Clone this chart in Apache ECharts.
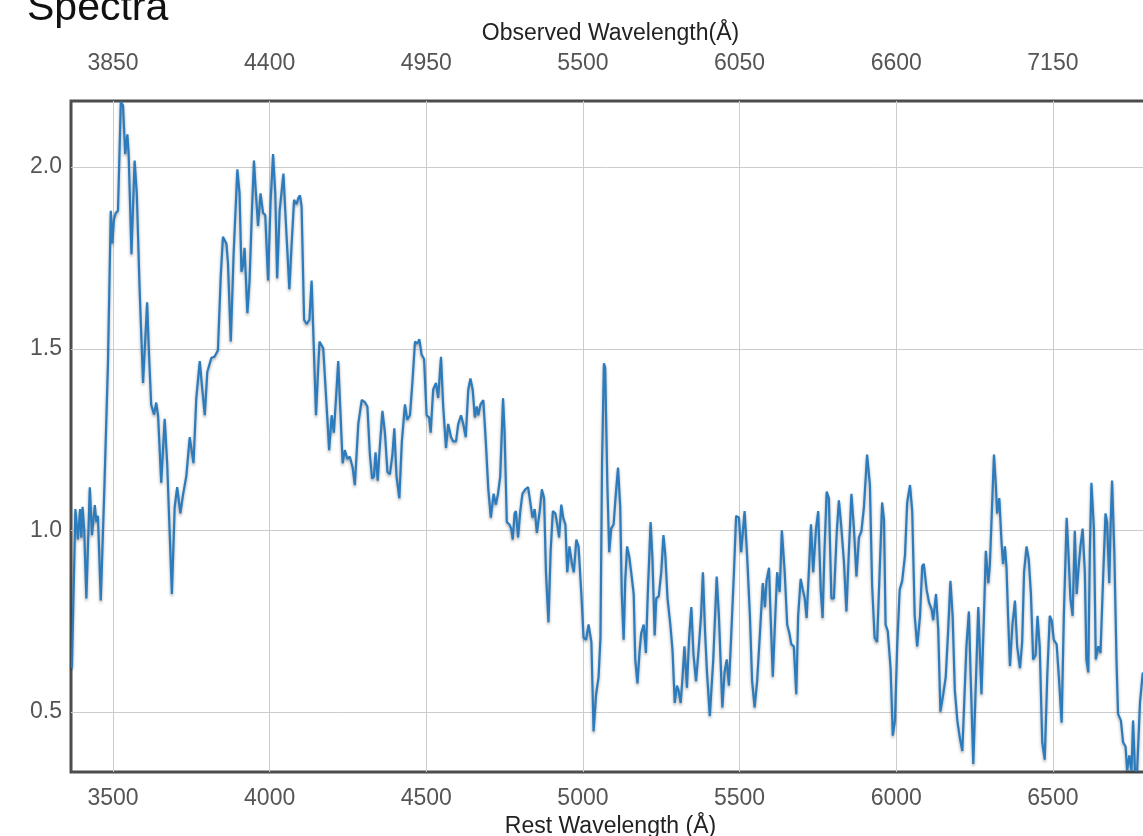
<!DOCTYPE html>
<html>
<head>
<meta charset="utf-8">
<title>Spectra</title>
<script src="https://cdn.jsdelivr.net/npm/echarts@6/dist/echarts.min.js"></script>
<style>
  html, body { margin: 0; padding: 0; background: #fff; }
  #chart { width: 1143px; height: 836px; }
</style>
</head>
<body>
<div id="chart"></div>
<script>
// redshift used for the top (observed) axis
const redshift = 0.1;

// rest wavelength (Å)
const restWave = [3369,3380,3388,3395,3399,3403,3408,3415,3426,3433,3442,3447,3452,3461,3473,3484,3493,3498,3503,3509,3516,3525,3532,3539,3546,3550,3559,3569,3576,3585,3596,3609,3615,3622,3631,3638,3644,3654,3665,3673,3688,3697,3705,3715,3723,3734,3745,3757,3766,3777,3785,3793,3801,3814,3824,3835,3844,3851,3862,3867,3876,3885,3897,3904,3910,3915,3920,3929,3936,3944,3950,3954,3963,3971,3979,3986,3995,4003,4011,4018,4024,4032,
  4044,4052,4063,4070,4078,4086,4092,4097,4102,4110,4118,4127,4134,4139,4148,4159,4171,4182,4190,4198,4205,4212,4219,4227,4233,4240,4248,4256,4265,4272,4283,4294,4304,4312,4320,4327,4333,4338,4345,4350,4360,4368,4376,4384,4392,4398,4405,4414,4422,4432,4439,4448,4456,4464,4471,4478,4485,4493,4501,4509,4514,4522,4531,4538,4547,4554,4563,4570,4579,4586,4595,4602,4611,4618,4626,4634,4641,4648,4655,4661,4666,4673,4682,4690,4698,4706,
  4715,4722,4729,4736,4745,4750,4757,4765,4771,4776,4782,4786,4793,4800,4807,4816,4825,4832,4839,4846,4853,4862,4869,4876,4882,4890,4897,4904,4912,4918,4924,4931,4937,4944,4950,4957,4965,4971,4979,4986,4995,5002,5010,5018,5027,5034,5042,5050,5056,5061,5067,5071,5078,5084,5090,5098,5105,5112,5119,5124,5130,5135,5141,5148,5154,5162,5167,5174,5181,5186,5194,5201,5207,5216,5222,5229,5234,5242,5250,5257,5263,5270,5279,5286,5293,5300,5305,5312,5318,5324,5332,5339,5346,5353,5361,5369,5377,5383,5390,5396,
  5405,5416,5427,5434,5445,5452,5459,5466,5473,5482,5489,5498,5505,5516,5524,5533,5540,5548,5556,5565,5574,5581,5586,5594,5599,5606,5614,5620,5628,5635,5644,5652,5659,5665,5673,5681,5687,5695,5702,5708,5714,5721,5728,5735,5744,5751,5759,5765,5771,5778,5785,5793,5801,5810,5817,5824,5833,5841,5849,5857,5865,5873,5881,5889,5897,5907,5916,5923,5931,5939,5947,5955,5961,5966,5973,5982,5989,5996,6003,6011,6019,6028,6035,6044,6051,6059,6067,6076,6083,6088,
  6097,6105,6113,6118,6127,6134,6141,6150,6158,6166,6173,6180,6187,6195,6203,6211,6217,6224,6232,6238,6246,6253,6262,6272,6280,6286,6294,6299,6304,6312,6318,6322,6329,6336,6341,6347,6352,6357,6363,6371,6379,6386,6395,6402,6408,6416,6423,6430,6437,6445,6451,6458,6466,6474,6482,6490,6496,6503,6512,6520,6528,6535,6544,6550,6556,6563,6570,6576,6582,6588,6595,6602,6607,6613,6618,6623,6631,6637,6645,6652,6661,6668,6673,6680,6684,6689,6696,6703,6708,6717,6724,6732,6737,6744,6751,6756,6762,6769,6778,6787];

// normalized flux
const flux = [0.621,1.059,0.975,1.059,0.98,1.065,1.005,0.813,1.119,0.987,1.07,1.023,1.04,0.807,1.131,1.46,1.88,1.79,1.856,1.874,1.88,2.18,2.17,2.036,2.09,2.036,1.76,2.018,1.928,1.664,1.406,1.628,1.484,1.346,1.319,1.352,1.316,1.131,1.307,1.185,0.825,1.065,1.119,1.047,1.095,1.149,1.257,1.185,1.365,1.466,1.389,1.317,1.436,1.475,1.478,1.496,1.7,1.808,1.79,1.736,1.52,1.76,1.994,1.928,1.712,1.73,1.778,1.598,1.688,1.892,2.018,1.958,1.838,1.928,1.874,1.868,1.688,1.904,2.036,1.928,1.694,1.88,
  1.982,1.844,1.664,1.784,1.91,1.898,1.916,1.922,1.892,1.58,1.568,1.58,1.688,1.556,1.317,1.52,1.502,1.341,1.221,1.317,1.269,1.365,1.466,1.305,1.185,1.221,1.197,1.203,1.173,1.125,1.293,1.359,1.353,1.341,1.209,1.143,1.149,1.215,1.137,1.209,1.329,1.269,1.161,1.155,1.209,1.281,1.149,1.089,1.245,1.347,1.305,1.317,1.412,1.52,1.514,1.526,1.484,1.472,1.317,1.311,1.269,1.388,1.406,1.365,1.478,1.341,1.227,1.293,1.257,1.245,1.245,1.293,1.317,1.293,1.257,1.388,1.418,1.388,1.311,1.341,1.317,1.347,1.359,1.245,1.113,1.035,
  1.101,1.071,1.101,1.149,1.364,1.269,1.023,1.017,1.005,0.975,1.047,1.053,0.981,1.053,1.101,1.113,1.119,1.077,1.035,1.059,0.993,1.053,1.113,1.089,0.885,0.747,0.944,1.053,1.047,1.017,0.981,1.071,1.035,1.017,0.885,0.956,0.908,0.885,0.975,0.956,0.825,0.705,0.699,0.741,0.693,0.447,0.549,0.597,0.705,1.185,1.46,1.448,1.125,0.94,1.005,1.017,1.101,1.173,1.065,0.825,0.699,0.861,0.956,0.927,0.885,0.825,0.645,0.579,0.669,0.717,0.741,0.663,0.825,1.023,0.92,0.711,0.813,0.819,0.885,0.987,0.932,0.813,0.741,0.669,0.525,0.573,0.561,0.525,0.597,0.681,0.567,0.705,0.789,0.657,0.585,0.669,0.765,0.885,0.717,0.609,
  0.489,0.645,0.873,0.765,0.513,0.609,0.645,0.573,0.705,0.885,1.04,1.035,0.94,1.053,0.932,0.765,0.585,0.513,0.585,0.717,0.855,0.789,0.861,0.897,0.765,0.597,0.765,0.885,0.831,1.0,0.885,0.741,0.717,0.687,0.681,0.549,0.765,0.867,0.837,0.813,0.759,0.885,1.017,0.885,1.005,1.053,0.837,0.759,0.944,1.107,1.089,0.813,0.813,0.993,1.083,1.017,0.915,0.777,0.944,1.101,1.005,0.873,0.981,0.999,1.065,1.209,1.125,0.849,0.705,0.693,0.885,1.077,1.029,0.741,0.723,0.621,0.435,0.477,0.681,0.837,0.861,0.932,1.077,1.125,1.053,0.765,0.681,0.765,0.902,0.908,
  0.837,0.801,0.783,0.753,0.825,0.729,0.501,0.549,0.597,0.729,0.861,0.765,0.561,0.477,0.429,0.393,0.525,0.681,0.777,0.585,0.357,0.549,0.789,0.549,0.765,0.944,0.855,0.908,1.023,1.209,1.125,1.047,1.089,0.969,0.908,0.956,0.897,0.765,0.627,0.741,0.807,0.681,0.621,0.693,0.885,0.956,0.92,0.825,0.645,0.657,0.765,0.681,0.417,0.369,0.597,0.765,0.753,0.699,0.687,0.585,0.471,0.765,1.035,0.932,0.813,0.765,0.999,0.825,0.897,0.956,1.005,0.885,0.645,0.609,0.944,1.131,1.005,0.645,0.681,0.663,0.885,1.047,1.023,0.855,1.005,1.137,0.944,0.645,0.495,0.477,0.417,0.405,0.339,0.381,0.339,0.477,0.339,0.339,0.525,0.609];

const yTicks = ['0.5', '1.0', '1.5', '2.0'];

let seriesData = restWave.map((w, i) => [w, flux[i]]);

let labelFont = {
  fontFamily: "'Liberation Sans', Arial, Helvetica, sans-serif",
  fontSize: 23,
  color: "#555",
};
let nameFont = {
  fontFamily: "'Liberation Sans', Arial, Helvetica, sans-serif",
  fontSize: 23,
  color: "#222",
};
let gridLine = {
  show: true,
  showMinLine: false,
  showMaxLine: false,
  lineStyle: { color: "#ccc", width: 1 },
};

let myChart = echarts.init(document.getElementById("chart"), null, { renderer: "canvas" });

let option = {
  animation: false,
  backgroundColor: "#fff",
  title: {
    text: "Spectra",
    left: 27,
    top: -12,
    padding: 0,
    textStyle: {
      fontFamily: "'Liberation Sans', Arial, Helvetica, sans-serif",
      fontSize: 41,
      fontWeight: "normal",
      color: "#111",
    },
  },
  grid: {
    left: 71,
    top: 101,
    width: 1079,
    height: 671,
    outerBoundsMode: "none",
    containLabel: false,
    show: true,
    borderColor: "#4d4d4d",
    borderWidth: 3,
    backgroundColor: "transparent",
  },
  xAxis: [
    {
      type: "value",
      position: "bottom",
      min: 3366,
      max: 6810,
      splitNumber: 7,
      name: "Rest Wavelength (Å)",
      nameLocation: "middle",
      nameGap: 41,
      nameTextStyle: nameFont,
      axisLine: { show: false },
      axisTick: { show: false },
      axisLabel: Object.assign({
        margin: 15,
        showMinLabel: false,
        showMaxLabel: false,
        formatter: function (value) {
          return String(Math.round(value));
        },
      }, labelFont),
      splitLine: { show: false },
    },
    {
      type: "value",
      position: "top",
      min: 3366,
      max: 6810,
      splitNumber: 7,
      name: "Observed Wavelength(Å)",
      nameLocation: "middle",
      nameGap: 56,
      nameTextStyle: nameFont,
      axisLine: { show: false },
      axisTick: { show: false },
      axisLabel: Object.assign({
        margin: 26,
        showMinLabel: false,
        showMaxLabel: false,
        formatter: function (value) {
          return String(Math.round(value * (1 + redshift)));
        },
      }, labelFont),
      splitLine: gridLine,
    },
  ],
  yAxis: {
    type: "value",
    min: 0.335,
    max: 2.182,
    splitNumber: 4,
    axisLine: { show: false },
    axisTick: { show: false },
    axisLabel: Object.assign({
      margin: 9,
      showMinLabel: false,
      showMaxLabel: false,
      formatter: function (value) {
        let s = value.toFixed(1);
        return yTicks.indexOf(s) >= 0 ? s : "";
      },
    }, labelFont),
    splitLine: gridLine,
  },
  series: [
    {
      type: "line",
      xAxisIndex: 0,
      data: seriesData,
      showSymbol: false,
      clip: true,
      lineStyle: {
        color: "#2b7bbd",
        width: 2.2,
        shadowColor: "rgba(0,0,0,0.35)",
        shadowBlur: 3,
        shadowOffsetY: 2,
      },
    },
  ],
};

myChart.setOption(option);
</script>
</body>
</html>
